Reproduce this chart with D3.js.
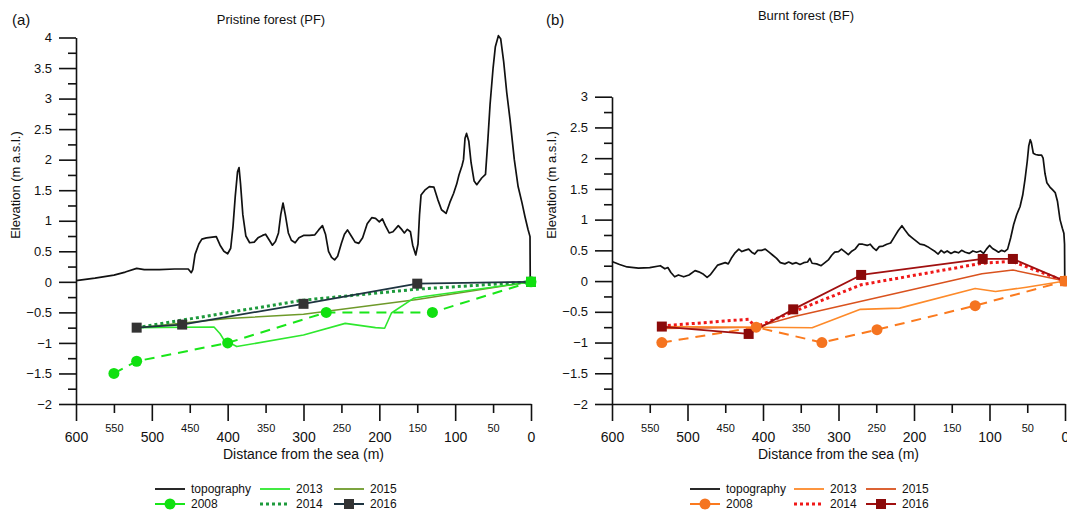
<!DOCTYPE html>
<html><head><meta charset="utf-8">
<script src="https://cdn.jsdelivr.net/npm/d3@7"></script>
<style>
body{margin:0;background:#fff;}
svg{display:block;font-family:"Liberation Sans",Arial,sans-serif;}
</style></head>
<body><svg id="c" width="1067" height="512"></svg>
<script>
// ---------- DATA ----------
const xMajorTicks = [600,500,400,300,200,100,0];
const xMinorTicks = [550,450,350,250,150,50];
const yTicksPF = [-2,-1.5,-1,-0.5,0,0.5,1,1.5,2,2.5,3,3.5,4];
const yTicksBF = [-2,-1.5,-1,-0.5,0,0.5,1,1.5,2,2.5,3];

// topography [distance (m), elevation (m a.s.l.)]
const topoPF = [[600,0.02],[575,0.06],[550,0.11],[535,0.16],[520,0.22],[510,0.2],[490,0.2],[470,0.21],[452,0.21],[448,0.15],[446,0.2],[443,0.45],[438,0.62],[434,0.7],[428,0.72],[415,0.74],[410,0.6],[405,0.5],[400,0.46],[396,0.55],[393,0.9],[390,1.4],[387,1.8],[385,1.87],[383,1.6],[380,1.1],[376,0.75],[371,0.64],[365,0.65],[360,0.72],[354,0.76],[350,0.78],[345,0.68],[341,0.6],[337,0.66],[333,0.8],[330,1.1],[327,1.29],[324,1.1],[320,0.8],[316,0.68],[311,0.64],[306,0.72],[300,0.76],[292,0.76],[285,0.77],[280,0.85],[275,0.92],[271,0.78],[267,0.5],[263,0.4],[259,0.36],[255,0.42],[250,0.63],[246,0.78],[242,0.85],[237,0.75],[232,0.65],[227,0.63],[222,0.72],[216,0.95],[210,1.05],[205,1.04],[200,0.98],[196,1.03],[192,0.92],[187,0.8],[182,0.82],[175,0.92],[170,0.85],[167,0.8],[163,0.86],[159,0.82],[156,0.6],[152,0.44],[149,0.62],[147,1.1],[145,1.42],[140,1.5],[134,1.56],[128,1.55],[123,1.35],[118,1.18],[112,1.12],[107,1.3],[102,1.45],[98,1.6],[95,1.75],[91,1.9],[89,2.0],[87,2.35],[85,2.43],[82,2.3],[79,1.95],[75,1.65],[71.5,1.59],[65,1.7],[60,1.76],[57,2.3],[54,2.9],[50,3.5],[47,3.85],[43,4.03],[40,3.98],[36,3.6],[32,3.1],[27.6,2.65],[22,2.0],[17,1.56],[12,1.3],[8,1.07],[4,0.86],[1.3,0.74],[1,0]];
const topoBF = [[600,0.32],[590,0.27],[580,0.23],[565,0.21],[550,0.22],[536,0.25],[530,0.2],[526,0.22],[522,0.14],[517,0.07],[512,0.1],[505,0.07],[498,0.1],[490,0.17],[485,0.15],[480,0.12],[474,0.06],[470,0.1],[465,0.18],[460,0.26],[455,0.28],[450,0.3],[446,0.28],[442,0.37],[437,0.46],[432,0.52],[428,0.48],[424,0.5],[419,0.52],[415,0.47],[411,0.44],[407,0.5],[402,0.5],[397,0.52],[392,0.47],[387,0.42],[382,0.37],[377,0.3],[371,0.28],[366,0.31],[361,0.28],[356,0.3],[351,0.27],[346,0.3],[341,0.31],[338,0.37],[335,0.29],[329,0.28],[323,0.25],[318,0.3],[313,0.35],[309,0.42],[305,0.47],[300,0.48],[296,0.52],[291,0.47],[287,0.43],[283,0.48],[278,0.52],[273,0.6],[268,0.6],[262,0.58],[258,0.6],[254,0.54],[250,0.5],[246,0.56],[241,0.57],[236,0.6],[231,0.62],[226,0.72],[221,0.82],[216,0.9],[212,0.83],[207,0.75],[202,0.7],[197,0.65],[192,0.6],[187,0.59],[182,0.56],[177,0.52],[172,0.48],[168,0.44],[164,0.5],[160,0.46],[156,0.49],[151,0.45],[146,0.48],[141,0.46],[137,0.5],[132,0.47],[127,0.45],[122,0.49],[117,0.47],[112,0.49],[108,0.45],[104,0.52],[100,0.58],[96,0.53],[92,0.5],[88,0.47],[84,0.5],[80,0.48],[76,0.52],[72,0.7],[68,0.92],[64,1.08],[59.6,1.21],[56,1.4],[53,1.65],[50,1.95],[48,2.2],[46,2.3],[44.5,2.25],[42,2.08],[39,2.06],[35,2.05],[31,2.05],[29,2.0],[26.5,1.75],[24,1.6],[20,1.53],[16,1.48],[13,1.44],[10,1.3],[6.6,1.0],[3.5,0.86],[1.5,0.78],[0.6,0.6],[0.3,0]];

// Pristine forest surveys
const pf2008 = [[550,-1.5],[520,-1.3],[400,-1.0],[270,-0.5],[130,-0.5],[0,0]];
const pf2013 = [[520,-0.75],[418,-0.74],[410,-0.85],[405,-0.95],[388,-1.06],[300,-0.87],[245,-0.68],[205,-0.75],[193,-0.76],[184,-0.51],[155,-0.27],[141,-0.24],[0,0]];
const pf2014 = [[520,-0.75],[300,-0.3],[150,-0.12],[0,0]];
const pf2015 = [[520,-0.75],[400,-0.6],[300,-0.53],[150,-0.29],[0,0]];
const pf2016 = [[520,-0.75],[460,-0.7],[300,-0.36],[150,-0.03],[0,0]];

// Burnt forest surveys
const bf2008 = [[534,-1.0],[409,-0.75],[322,-1.0],[249,-0.79],[119,-0.4],[0,0]];
const bf2013 = [[534,-0.74],[409,-0.75],[335,-0.76],[271,-0.46],[219,-0.44],[119,-0.12],[92,-0.17],[51,-0.1],[0,0]];
const bf2014 = [[534,-0.73],[419,-0.62],[410,-0.75],[360,-0.5],[270,-0.06],[110,0.29],[70,0.32],[0,0]];
const bf2015 = [[534,-0.77],[409,-0.75],[360,-0.58],[110,0.12],[69,0.18],[0,0]];
const bf2016 = [[534,-0.74],[419,-0.86],[360,-0.46],[270,0.1],[109,0.36],[69,0.36],[0,0]];

const legendLabels = ["topography","2008","2013","2014","2015","2016"];

// ---------- DRAW ----------
const svg = d3.select("#c");

function panel(cfg){
  const g = svg.append("g");
  const x = d3.scaleLinear().domain([600,0]).range(cfg.xr);
  const y = d3.scaleLinear().domain(cfg.yd).range(cfg.yr);
  const y0 = cfg.yr[0];

  const minorY = d3.range(cfg.yd[0], cfg.yd[1]+0.001, 0.25).filter(v=>Math.abs(v*2-Math.round(v*2))>0.01);
  g.append("g").attr("transform",`translate(${cfg.xr[0]},0)`)
    .call(d3.axisLeft(y).tickValues(minorY).tickSize(8).tickSizeOuter(0).tickFormat(""))
    .call(a=>a.select(".domain").remove());
  g.append("g").attr("transform",`translate(${cfg.xr[0]},0)`)
    .call(d3.axisLeft(y).tickValues(cfg.yTicks).tickSize(17).tickSizeOuter(0).tickPadding(7).tickFormat(d3.format("")))
    .call(a=>a.selectAll("text").attr("font-size",13).attr("fill","#111"));
  g.append("g").attr("transform",`translate(0,${y0})`)
    .call(d3.axisBottom(x).tickValues(xMinorTicks).tickSize(9).tickSizeOuter(0).tickPadding(11))
    .call(a=>a.select(".domain").remove())
    .call(a=>a.selectAll("text").attr("font-size",11).attr("fill","#111"));
  g.append("g").attr("transform",`translate(0,${y0})`)
    .call(d3.axisBottom(x).tickValues(xMajorTicks).tickSize(17).tickSizeOuter(0).tickPadding(11))
    .call(a=>a.selectAll("text").attr("font-size",14).attr("fill","#111"));
  g.selectAll(".domain,.tick line").attr("stroke","#111").attr("stroke-width",1.6);

  g.append("text").attr("x",(cfg.xr[0]+cfg.xr[1])/2).attr("y",459).attr("text-anchor","middle")
    .attr("font-size",14).attr("fill","#111").text("Distance from the sea (m)");
  g.append("text").attr("transform",`translate(${cfg.ylabX},185) rotate(-90)`).attr("text-anchor","middle")
    .attr("font-size",13).attr("fill","#111").text("Elevation (m a.s.l.)");
  g.append("text").attr("x",cfg.tagX).attr("y",25).attr("font-size",15).attr("fill","#111").text(cfg.tag);
  g.append("text").attr("x",cfg.titleX).attr("y",cfg.titleY).attr("text-anchor","middle")
    .attr("font-size",13).attr("fill","#111").text(cfg.title);

  const line = d3.line().x(d=>x(d[0])).y(d=>y(d[1]));
  const s = cfg.series;
  g.append("path").datum(cfg.topo).attr("d",line).attr("fill","none").attr("stroke","#111").attr("stroke-width",1.7).attr("stroke-linejoin","round");
  const styles = cfg.styles;
  [["2015",s[2015]],["2013",s[2013]],["2008",s[2008]],["2014",s[2014]],["2016",s[2016]]].forEach(([k,d])=>{
    const st = styles[k];
    g.append("path").datum(d).attr("d",line).attr("fill","none").attr("stroke",st.line)
      .attr("stroke-width",st.w).attr("stroke-dasharray",st.dash||null).attr("stroke-linejoin","round");
  });
  g.selectAll(".sq").data(s[2016]).join("rect").attr("x",d=>x(d[0])-5).attr("y",d=>y(d[1])-5)
    .attr("width",10).attr("height",10).attr("fill",styles["2016"].mark);
  g.selectAll(".ci").data(s[2008]).join("circle").attr("cx",d=>x(d[0])).attr("cy",d=>y(d[1])).attr("r",5.5)
    .attr("fill",styles["2008"].mark);
  const end = s[2008][s[2008].length-1];
  g.append("rect").attr("x",x(end[0])-5).attr("y",y(end[1])-5).attr("width",10).attr("height",10).attr("fill",styles["2008"].mark);

  const L = cfg.leg;
  const lg = g.append("g").attr("font-size",12).attr("fill","#111");
  const items = [
    {k:"topography", c:0, r:0},{k:"2008", c:0, r:1},
    {k:"2013", c:1, r:0},{k:"2014", c:1, r:1},
    {k:"2015", c:2, r:0},{k:"2016", c:2, r:1}];
  items.forEach(it=>{
    const lx = L.cols[it.c], ly = L.rows[it.r];
    const st = it.k==="topography" ? {line:"#111",w:1.6} : styles[it.k];
    lg.append("line").attr("x1",lx).attr("x2",lx+30).attr("y1",ly).attr("y2",ly)
      .attr("stroke",st.line).attr("stroke-width",it.k==="2014"?3:(it.k==="2008"||it.k==="2016"?2:1.8))
      .attr("stroke-dasharray",it.k==="2014"?"3,3":null);
    if(it.k==="2008") lg.append("circle").attr("cx",lx+15).attr("cy",ly).attr("r",5.5).attr("fill",st.mark);
    if(it.k==="2016") lg.append("rect").attr("x",lx+10).attr("y",ly-5).attr("width",10).attr("height",10).attr("fill",st.mark);
    lg.append("text").attr("x",lx+36).attr("y",ly+4).text(legendLabels[legendLabels.indexOf(it.k)]);
  });
}

panel({
  xr:[76,531], yd:[-2,4], yr:[404,37.5], yTicks:yTicksPF, ylabX:20, tag:"(a)", tagX:12,
  title:"Pristine forest (PF)", titleX:271, titleY:24, topo:topoPF,
  series:{2008:pf2008,2013:pf2013,2014:pf2014,2015:pf2015,2016:pf2016},
  styles:{
    "2008":{line:"#19e619",mark:"#10e010",w:2,dash:"10,7"},
    "2013":{line:"#2ee82e",w:1.6},
    "2014":{line:"#1d9a3c",w:3,dash:"3,3"},
    "2015":{line:"#6e9a2a",w:1.5},
    "2016":{line:"#1e3440",mark:"#333333",w:1.8}
  },
  leg:{cols:[155,260,334], rows:[489,504]}
});
panel({
  xr:[612,1065], yd:[-2,3], yr:[404,96.7], yTicks:yTicksBF, ylabX:556, tag:"(b)", tagX:546,
  title:"Burnt forest (BF)", titleX:806, titleY:20, topo:topoBF,
  series:{2008:bf2008,2013:bf2013,2014:bf2014,2015:bf2015,2016:bf2016},
  styles:{
    "2008":{line:"#fb7a1e",mark:"#f57420",w:2,dash:"10,7"},
    "2013":{line:"#fd8a2a",w:1.6},
    "2014":{line:"#f01818",w:3,dash:"3,3"},
    "2015":{line:"#d9521e",w:1.5},
    "2016":{line:"#a01010",mark:"#8b0a0a",w:1.8}
  },
  leg:{cols:[690,794,866], rows:[489,504]}
});
</script></body></html>
